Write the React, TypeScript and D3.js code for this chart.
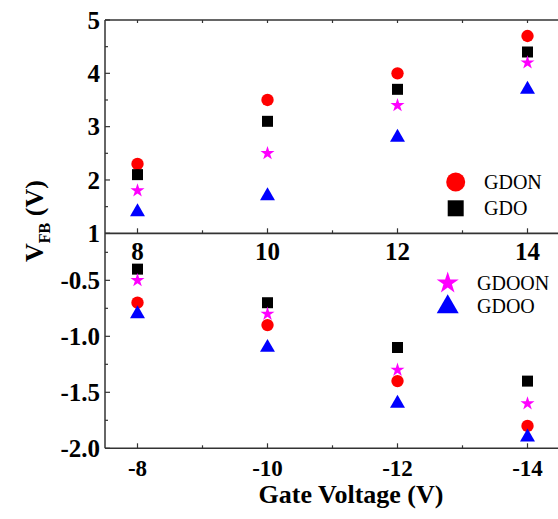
import React from "react";
import * as d3 from "d3";

const topGate = [8, 10, 12, 14];
const bottomGate = [-8, -10, -12, -14];
const seriesNames = ["GDON", "GDO", "GDOON", "GDOO"];
const seriesColors = ["#ff0000", "#000000", "#ff00ff", "#0000ff"];
const topGDON = [2.3, 3.5, 4.0, 4.7];
const topGDO = [2.1, 3.1, 3.7, 4.4];
const topGDOON = [1.8, 2.5, 3.4, 4.2];
const topGDOO = [1.4, 1.7, 2.8, 3.7];
const botGDON = [-0.7, -0.9, -1.4, -1.8];
const botGDO = [-0.4, -0.7, -1.1, -1.4];
const botGDOON = [-0.5, -0.8, -1.3, -1.6];
const botGDOO = [-0.8, -1.1, -1.6, -1.9];
const topYTicks = [1, 2, 3, 4, 5];
const topYMinor = [1.5, 2.5, 3.5, 4.5];
const botYTicks = [-0.5, -1.0, -1.5, -2.0];
const botYMinor = [-0.25, -0.75, -1.25, -1.75];
const topXMinor = [9, 11, 13];
const botXMinor = [-9, -11, -13];

const W = 558;
const H = 519;
const left = 105;
const AX = "#333";
const FONT = "Liberation Serif, Times New Roman, Times, DejaVu Serif, serif";

const xTop = d3.scaleLinear().domain([7.5, 14.5]).range([left, left + 455]);
const xBot = d3.scaleLinear().domain([-7.5, -14.5]).range([left, left + 455]);
const yTop = d3.scaleLinear().domain([1, 5]).range([233.3, 20]);
const yBot = d3.scaleLinear().domain([-2, -0.08]).range([448.3, 233.3]);

const symTypes = [d3.symbolCircle, d3.symbolSquare, d3.symbolStar, d3.symbolTriangle];
const plotSizes = [120, 121, 61, 97];
const legendSizes = [284, 256, 151, 209];

function Marker({ i, x, y, size }: { i: number; x: number; y: number; size: number }) {
  const p = d3.symbol().type(symTypes[i]).size(size)();
  return <path d={p || ""} transform={`translate(${x},${y})`} fill={seriesColors[i]} />;
}

const txt = (size: number, bold: boolean) => ({
  fontFamily: FONT,
  fontSize: size,
  fontWeight: bold ? 700 : 400,
});

export default function App() {
  const topSeries = [topGDON, topGDO, topGDOON, topGDOO];
  const botSeries = [botGDON, botGDO, botGDOON, botGDOO];
  const major = 5;
  const minor = 3;
  return (
    <svg width={W} height={H} style={{ position: "absolute", left: 0, top: 0, background: "#fff" }}>
      <rect x={0} y={0} width={W} height={H} fill="#fff" />
      <line x1={left} x2={W + 5} y1={yTop(5)} y2={yTop(5)} stroke={AX} strokeWidth={1.5} />
      <line x1={left} x2={W + 5} y1={yTop(1)} y2={yTop(1)} stroke={AX} strokeWidth={1.8} />
      <line x1={left} x2={W + 5} y1={yBot(-2)} y2={yBot(-2)} stroke={AX} strokeWidth={1.5} />
      <line x1={left} x2={left} y1={yTop(5)} y2={yBot(-2)} stroke={AX} strokeWidth={1.5} />

      {topYTicks.map((v) => (
        <g key={"ty" + v}>
          <line x1={left} x2={left + major} y1={yTop(v)} y2={yTop(v)} stroke={AX} strokeWidth={1.2} />
          <text x={100} y={yTop(v)} dy="0.35em" textAnchor="end" style={txt(25, true)}>
            {v}
          </text>
        </g>
      ))}
      {topYMinor.map((v) => (
        <line key={"tym" + v} x1={left} x2={left + minor} y1={yTop(v)} y2={yTop(v)} stroke={AX} strokeWidth={1.2} />
      ))}
      {topGate.map((v) => (
        <g key={"tx" + v}>
          <line x1={xTop(v)} x2={xTop(v)} y1={yTop(1)} y2={yTop(1) - major} stroke={AX} strokeWidth={1.2} />
          <line x1={xTop(v)} x2={xTop(v)} y1={yTop(5)} y2={yTop(5) + minor} stroke={AX} strokeWidth={1.2} />
          <text x={xTop(v)} y={260} textAnchor="middle" style={txt(25, true)}>
            {v}
          </text>
        </g>
      ))}
      {topXMinor.map((v) => (
        <g key={"txm" + v}>
          <line x1={xTop(v)} x2={xTop(v)} y1={yTop(1)} y2={yTop(1) - minor} stroke={AX} strokeWidth={1.2} />
          <line x1={xTop(v)} x2={xTop(v)} y1={yTop(5)} y2={yTop(5) + minor} stroke={AX} strokeWidth={1.2} />
        </g>
      ))}

      {botYTicks.map((v) => (
        <g key={"by" + v}>
          <line x1={left} x2={left + major} y1={yBot(v)} y2={yBot(v)} stroke={AX} strokeWidth={1.2} />
          <text x={100} y={yBot(v)} dy="0.35em" textAnchor="end" style={txt(25, true)}>
            {d3.format(".1f")(v).replace("\u2212", "-")}
          </text>
        </g>
      ))}
      {botYMinor.map((v) => (
        <line key={"bym" + v} x1={left} x2={left + minor} y1={yBot(v)} y2={yBot(v)} stroke={AX} strokeWidth={1.2} />
      ))}
      {bottomGate.map((v) => (
        <g key={"bx" + v}>
          <line x1={xBot(v)} x2={xBot(v)} y1={yBot(-2)} y2={yBot(-2) - major} stroke={AX} strokeWidth={1.2} />
          <text x={xBot(v)} y={476} textAnchor="middle" style={txt(23, true)}>
            {String(v)}
          </text>
        </g>
      ))}
      {botXMinor.map((v) => (
        <line key={"bxm" + v} x1={xBot(v)} x2={xBot(v)} y1={yBot(-2)} y2={yBot(-2) - minor} stroke={AX} strokeWidth={1.2} />
      ))}

      {topSeries.map((s, i) =>
        s.map((v, j) => <Marker key={`t${i}-${j}`} i={i} x={xTop(topGate[j])} y={yTop(v)} size={plotSizes[i]} />)
      )}
      {botSeries.map((s, i) =>
        s.map((v, j) => <Marker key={`b${i}-${j}`} i={i} x={xBot(bottomGate[j])} y={yBot(v)} size={plotSizes[i]} />)
      )}

      <Marker i={0} x={455.7} y={182} size={legendSizes[0]} />
      <text x={484} y={182} dy="0.35em" style={txt(20, false)}>{seriesNames[0]}</text>
      <Marker i={1} x={455.7} y={208.3} size={legendSizes[1]} />
      <text x={484} y={208.3} dy="0.35em" style={txt(20, false)}>{seriesNames[1]}</text>
      <Marker i={2} x={447.7} y={283} size={legendSizes[2]} />
      <text x={477} y={283} dy="0.35em" style={txt(20, false)}>{seriesNames[2]}</text>
      <Marker i={3} x={447.7} y={307} size={legendSizes[3]} />
      <text x={477} y={306} dy="0.35em" style={txt(20, false)}>{seriesNames[3]}</text>

      <text x={351} y={503} textAnchor="middle" style={txt(26, true)}>
        Gate Voltage (V)
      </text>
      <text transform="translate(43,262) rotate(-90)" style={txt(26, true)}>
        V
        <tspan style={{ fontSize: 16 }} dy={7}>FB</tspan>
        <tspan dy={-7}> (V)</tspan>
      </text>
    </svg>
  );
}
